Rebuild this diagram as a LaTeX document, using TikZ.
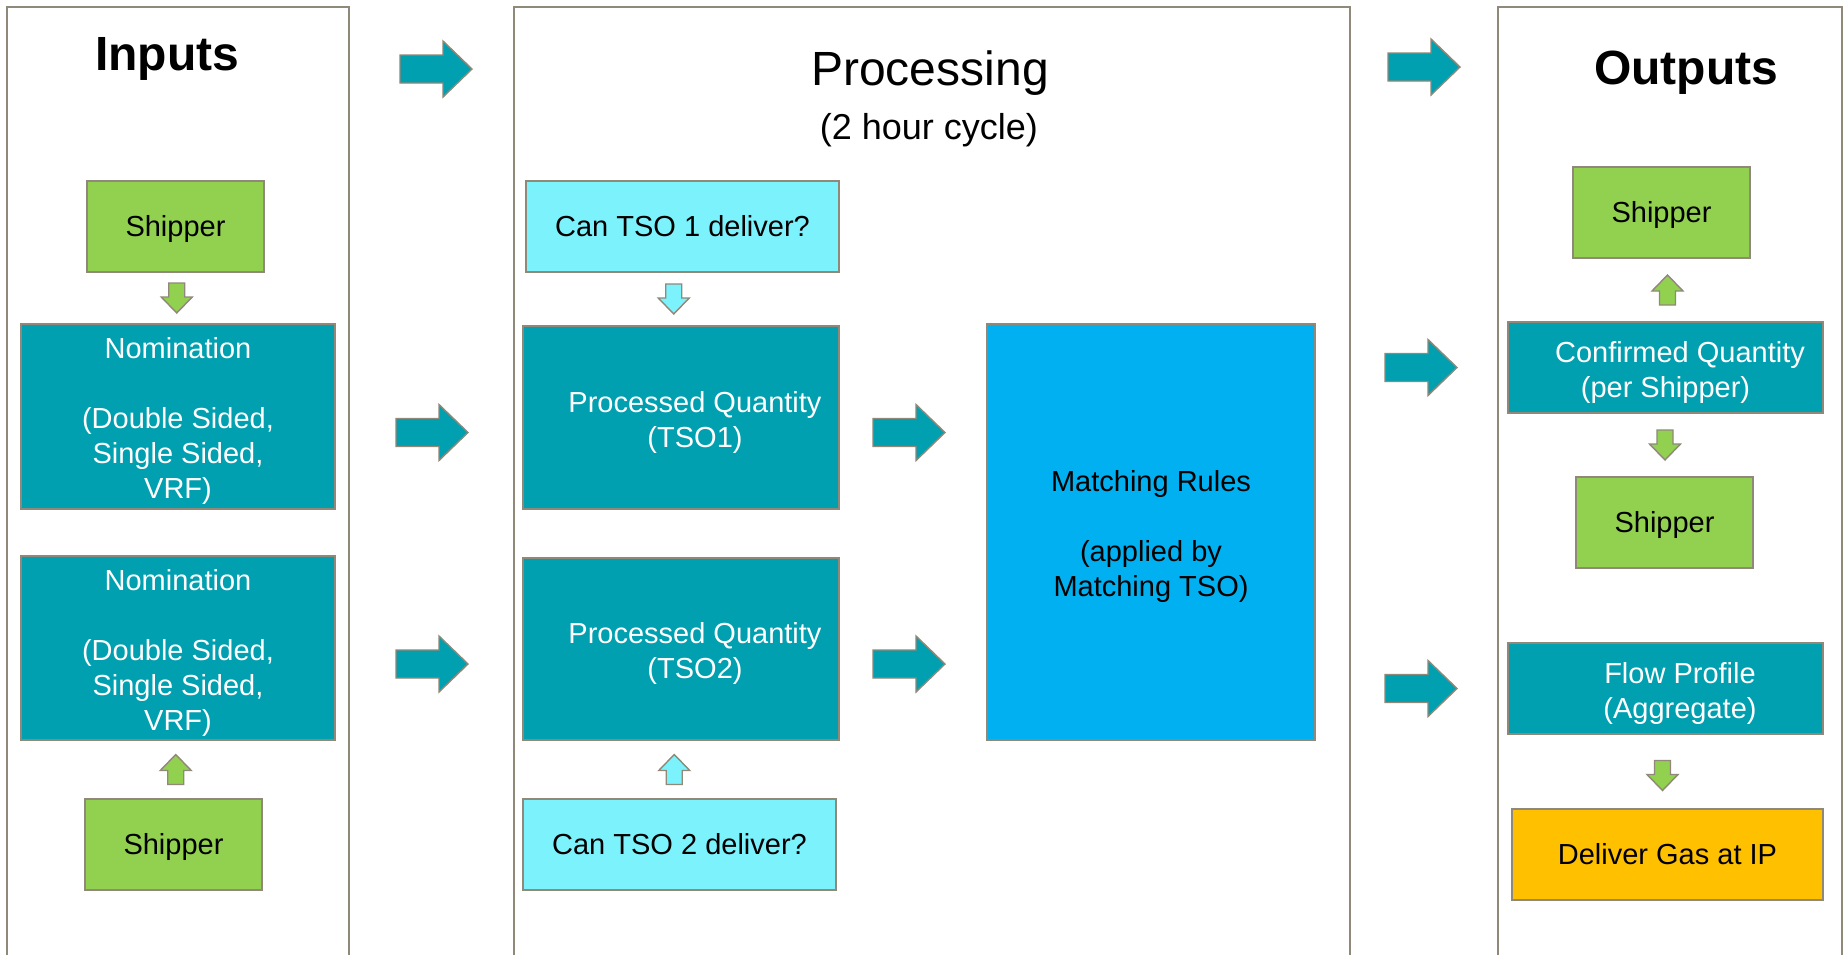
\documentclass[tikz,border=0pt]{standalone}
\usepackage{fontspec}
\setmainfont{Liberation Sans}
\usetikzlibrary{calc}
\definecolor{teal1}{RGB}{0,160,176}
\definecolor{green1}{RGB}{146,208,80}
\definecolor{cyan1}{RGB}{124,242,252}
\definecolor{blue1}{RGB}{0,176,240}
\definecolor{gold1}{RGB}{255,192,0}
\definecolor{edge1}{RGB}{144,136,120}
\tikzset{
  box/.style={draw=edge1, line width=1pt, inner sep=0pt, font=\fontsize{14.5}{17.5}\selectfont},
  tealbox/.style={box, fill=teal1, text=white},
  greenbox/.style={box, fill=green1},
  cyanbox/.style={box, fill=cyan1},
  bluebox/.style={box, fill=blue1},
  goldbox/.style={box, fill=gold1},
  panel/.style={draw=edge1, line width=1pt},
  titlebold/.style={anchor=base, inner sep=0pt, font=\fontsize{24}{28}\selectfont\bfseries},
  bigarrow/.pic={\draw[draw=edge1, line width=0.7pt, fill=teal1] (0,-14) -- (43,-14) -- (43,-28) -- (72,0) -- (43,28) -- (43,14) -- (0,14) -- cycle;},
  sdown/.pic={\draw[draw=edge1, line width=0.7pt, fill=#1] (-8,-15) -- (8,-15) -- (8,-1) -- (15.5,-1) -- (0,15) -- (-15.5,-1) -- (-8,-1) -- cycle;},
  sup/.pic={\draw[draw=edge1, line width=0.7pt, fill=#1] (-8,15) -- (8,15) -- (8,1) -- (15.5,1) -- (0,-15) -- (-15.5,1) -- (-8,1) -- cycle;},
}
\newcommand\btext[2]{\raisebox{-#1}[\height][\depth]{\begin{tabular}{@{}c@{}}#2\end{tabular}}}
\newcommand\mybox[7]{\node[#6, minimum width={(#4-#2)*0.5pt}, minimum height={(#5-#3)*0.5pt}] (#1) at ({(#2+#4)/2},{(#3+#5)/2}) {#7};}
\begin{document}
\begin{tikzpicture}[x=0.5pt, y=-0.5pt]
\fill[white] (0,0) rectangle (1844,955);
\useasboundingbox (0,0) rectangle (1844,955);
% panels
\draw[panel] (7,955) -- (7,7) -- (349,7) -- (349,955);
\draw[panel] (514,955) -- (514,7) -- (1350,7) -- (1350,955);
\draw[panel] (1498,955) -- (1498,7) -- (1842,7) -- (1842,955);
% titles
\node[titlebold] (tin) at (167,70) {Inputs};
\node[anchor=base, inner sep=0pt, font=\fontsize{24}{28}\selectfont] (tproc) at (930,85) {Processing};
\node[anchor=base, inner sep=0pt, font=\fontsize{18}{22}\selectfont] (tcyc) at (929,139) {(2 hour cycle)};
\node[titlebold] (tout) at (1686,84) {Outputs};
% inputs
\mybox{ship1}{87}{181}{264}{272}{greenbox}{\btext{1.5pt}{Shipper}}
\mybox{nom1}{21}{324}{335}{509}{tealbox}{\btext{2.5pt}{Nomination\\[17.5pt](Double Sided,\\Single Sided,\\VRF)}}
\mybox{nom2}{21}{556}{335}{740}{tealbox}{\btext{2.5pt}{Nomination\\[17.5pt](Double Sided,\\Single Sided,\\VRF)}}
\mybox{ship2}{85}{799}{262}{890}{greenbox}{\btext{1.5pt}{Shipper}}
% processing
\mybox{can1}{526}{181}{839}{272}{cyanbox}{\btext{1.5pt}{Can TSO 1 deliver?}}
\mybox{pq1}{523}{326}{839}{509}{tealbox}{\btext{2.5pt}{\hspace*{14pt}Processed Quantity\\\hspace*{14pt}(TSO1)}}
\mybox{pq2}{523}{558}{839}{740}{tealbox}{\btext{2.5pt}{\hspace*{14pt}Processed Quantity\\\hspace*{14pt}(TSO2)}}
\mybox{can2}{523}{799}{836}{890}{cyanbox}{\btext{1.5pt}{Can TSO 2 deliver?}}
\mybox{match}{987}{324}{1315}{740}{bluebox}{\btext{2.5pt}{Matching Rules\\[17.5pt](applied by\\Matching TSO)}}
% outputs
\mybox{shipO1}{1573}{167}{1750}{258}{greenbox}{\btext{1.5pt}{Shipper}}
\mybox{conf}{1508}{322}{1823}{413}{tealbox}{\btext{2.5pt}{\hspace*{14.5pt}Confirmed Quantity\\(per Shipper)}}
\mybox{shipO2}{1576}{477}{1753}{568}{greenbox}{\btext{1.5pt}{Shipper}}
\mybox{flow}{1508}{643}{1823}{734}{tealbox}{\btext{2.5pt}{\hspace*{14.5pt}Flow Profile\\\hspace*{14.5pt}(Aggregate)}}
\mybox{deliver}{1512}{809}{1823}{900}{goldbox}{\btext{1.5pt}{Deliver Gas at IP}}
% small arrows
\pic at ($(ship1.south)!0.5!(nom1.north)$) {sdown=green1};
\pic at ($(nom2.south)!0.5!(ship2.north)$) {sup=green1};
\pic at ($(can1.south)!0.5!(pq1.north)+(-8,0)$) {sdown=cyan1};
\pic at ($(pq2.south)!0.5!(can2.north)+(-6,0)$) {sup=cyan1};
\pic at ($(shipO1.south)!0.5!(conf.north)+(4,0)$) {sup=green1};
\pic at ($(conf.south)!0.5!(shipO2.north)+(0,0)$) {sdown=green1};
\pic at ($(flow.south)!0.5!(deliver.north)+(-4,4)$) {sdown=green1};
% big arrows
\pic at (400,69) {bigarrow};
\pic at (396,432.5) {bigarrow};
\pic at (396,664) {bigarrow};
\pic at (873,432.5) {bigarrow};
\pic at (873,664) {bigarrow};
\pic at (1388,67) {bigarrow};
\pic at (1385,367.5) {bigarrow};
\pic at (1385,688.5) {bigarrow};
\end{tikzpicture}
\end{document}
